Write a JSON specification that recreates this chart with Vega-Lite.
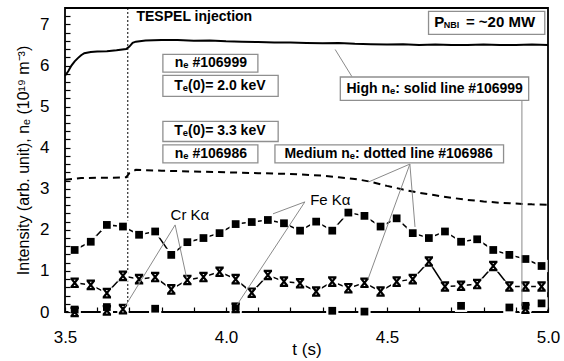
{
  "$schema": "https://vega.github.io/schema/vega-lite/v6.json",
  "width": 483,
  "height": 304,
  "autosize": {"type": "none"},
  "padding": {"left": 65, "top": 8, "right": 16, "bottom": 49},
  "background": "white",
  "config": {
    "font": "Liberation Sans",
    "view": {"stroke": "black", "strokeWidth": 1.8}
  },
  "resolve": {"axis": {"x": "independent", "y": "independent"}},
  "datasets": {
    "ne": [
      {"t": 3.50, "v": 5.75}, {"t": 3.51, "v": 5.86}, {"t": 3.52, "v": 6.00},
      {"t": 3.53, "v": 6.10}, {"t": 3.54, "v": 6.18}, {"t": 3.55, "v": 6.25},
      {"t": 3.56, "v": 6.30}, {"t": 3.58, "v": 6.33}, {"t": 3.60, "v": 6.34},
      {"t": 3.63, "v": 6.35}, {"t": 3.66, "v": 6.37}, {"t": 3.69, "v": 6.40},
      {"t": 3.70, "v": 6.46}, {"t": 3.71, "v": 6.55}, {"t": 3.72, "v": 6.58},
      {"t": 3.75, "v": 6.61}, {"t": 3.80, "v": 6.62}, {"t": 3.85, "v": 6.62},
      {"t": 3.90, "v": 6.60}, {"t": 3.95, "v": 6.61}, {"t": 4.00, "v": 6.59},
      {"t": 4.05, "v": 6.58}, {"t": 4.10, "v": 6.57}, {"t": 4.15, "v": 6.56},
      {"t": 4.20, "v": 6.56}, {"t": 4.25, "v": 6.55}, {"t": 4.30, "v": 6.54},
      {"t": 4.35, "v": 6.55}, {"t": 4.40, "v": 6.53}, {"t": 4.45, "v": 6.52},
      {"t": 4.50, "v": 6.51}, {"t": 4.55, "v": 6.52}, {"t": 4.60, "v": 6.50},
      {"t": 4.65, "v": 6.51}, {"t": 4.70, "v": 6.50}, {"t": 4.75, "v": 6.50},
      {"t": 4.80, "v": 6.51}, {"t": 4.85, "v": 6.50}, {"t": 4.90, "v": 6.50},
      {"t": 4.95, "v": 6.51}, {"t": 5.00, "v": 6.50}
    ],
    "ne2": [
      {"t": 3.50, "v": 3.22}, {"t": 3.55, "v": 3.26}, {"t": 3.60, "v": 3.27}, {"t": 3.65, "v": 3.27}, {"t": 3.69, "v": 3.28},
      {"t": 3.70, "v": 3.38}, {"t": 3.72, "v": 3.46}, {"t": 3.80, "v": 3.44}, {"t": 3.90, "v": 3.42}, {"t": 4.00, "v": 3.40},
      {"t": 4.10, "v": 3.38}, {"t": 4.20, "v": 3.36}, {"t": 4.30, "v": 3.32}, {"t": 4.35, "v": 3.28}, {"t": 4.40, "v": 3.24},
      {"t": 4.45, "v": 3.17}, {"t": 4.50, "v": 3.07}, {"t": 4.55, "v": 2.98}, {"t": 4.60, "v": 2.90}, {"t": 4.65, "v": 2.84},
      {"t": 4.70, "v": 2.78}, {"t": 4.75, "v": 2.73}, {"t": 4.80, "v": 2.69}, {"t": 4.85, "v": 2.66}, {"t": 4.90, "v": 2.64},
      {"t": 4.95, "v": 2.62}, {"t": 5.00, "v": 2.61}
    ],
    "sq": [
      {"s": "Fe 106999", "t": 3.53, "v": 1.51}, {"s": "Fe 106999", "t": 3.58, "v": 1.71}, {"s": "Fe 106999", "t": 3.63, "v": 2.12},
      {"s": "Fe 106999", "t": 3.68, "v": 2.08}, {"s": "Fe 106999", "t": 3.73, "v": 1.88}, {"s": "Fe 106999", "t": 3.78, "v": 1.96},
      {"s": "Fe 106999", "t": 3.83, "v": 1.39}, {"s": "Fe 106999", "t": 3.88, "v": 1.70}, {"s": "Fe 106999", "t": 3.93, "v": 1.80},
      {"s": "Fe 106999", "t": 3.98, "v": 1.92}, {"s": "Fe 106999", "t": 4.03, "v": 2.14}, {"s": "Fe 106999", "t": 4.08, "v": 2.19},
      {"s": "Fe 106999", "t": 4.13, "v": 2.24}, {"s": "Fe 106999", "t": 4.18, "v": 2.16}, {"s": "Fe 106999", "t": 4.23, "v": 1.98},
      {"s": "Fe 106999", "t": 4.28, "v": 2.20}, {"s": "Fe 106999", "t": 4.33, "v": 1.98}, {"s": "Fe 106999", "t": 4.38, "v": 2.42},
      {"s": "Fe 106999", "t": 4.43, "v": 2.34}, {"s": "Fe 106999", "t": 4.48, "v": 2.08}, {"s": "Fe 106999", "t": 4.53, "v": 2.28},
      {"s": "Fe 106999", "t": 4.58, "v": 1.92}, {"s": "Fe 106999", "t": 4.63, "v": 1.80}, {"s": "Fe 106999", "t": 4.68, "v": 1.96},
      {"s": "Fe 106999", "t": 4.73, "v": 1.71}, {"s": "Fe 106999", "t": 4.78, "v": 1.77}, {"s": "Fe 106999", "t": 4.83, "v": 1.51},
      {"s": "Fe 106999", "t": 4.88, "v": 1.39}, {"s": "Fe 106999", "t": 4.93, "v": 1.29}, {"s": "Fe 106999", "t": 4.98, "v": 1.12},
      {"s": "Cr 106999", "t": 3.53, "v": 0.06}, {"s": "Cr 106999", "t": 3.63, "v": 0.12}, {"s": "Cr 106999", "t": 3.78, "v": 0.08},
      {"s": "Cr 106999", "t": 4.03, "v": 0.13}, {"s": "Cr 106999", "t": 4.33, "v": 0.03}, {"s": "Cr 106999", "t": 4.43, "v": 0.01},
      {"s": "Cr 106999", "t": 4.73, "v": 0.15}, {"s": "Cr 106999", "t": 4.88, "v": 0.11}, {"s": "Cr 106999", "t": 4.93, "v": 0.15},
      {"s": "Cr 106999", "t": 4.98, "v": 0.21}
    ],
    "cx": [
      {"s": "Cr 106986", "t": 3.53, "v": 0.71}, {"s": "Cr 106986", "t": 3.58, "v": 0.66}, {"s": "Cr 106986", "t": 3.63, "v": 0.46},
      {"s": "Cr 106986", "t": 3.68, "v": 0.88}, {"s": "Cr 106986", "t": 3.73, "v": 0.80}, {"s": "Cr 106986", "t": 3.78, "v": 0.85},
      {"s": "Cr 106986", "t": 3.83, "v": 0.55}, {"s": "Cr 106986", "t": 3.88, "v": 0.78}, {"s": "Cr 106986", "t": 3.93, "v": 0.85},
      {"s": "Cr 106986", "t": 3.98, "v": 0.98}, {"s": "Cr 106986", "t": 4.03, "v": 0.80}, {"s": "Cr 106986", "t": 4.08, "v": 0.47},
      {"s": "Cr 106986", "t": 4.13, "v": 0.90}, {"s": "Cr 106986", "t": 4.18, "v": 0.74}, {"s": "Cr 106986", "t": 4.23, "v": 0.70},
      {"s": "Cr 106986", "t": 4.28, "v": 0.50}, {"s": "Cr 106986", "t": 4.33, "v": 0.74}, {"s": "Cr 106986", "t": 4.38, "v": 0.58},
      {"s": "Cr 106986", "t": 4.43, "v": 0.71}, {"s": "Cr 106986", "t": 4.48, "v": 0.50}, {"s": "Cr 106986", "t": 4.53, "v": 0.74},
      {"s": "Cr 106986", "t": 4.58, "v": 0.80}, {"s": "Cr 106986", "t": 4.63, "v": 1.23}, {"s": "Cr 106986", "t": 4.68, "v": 0.62},
      {"s": "Cr 106986", "t": 4.73, "v": 0.64}, {"s": "Cr 106986", "t": 4.78, "v": 0.68}, {"s": "Cr 106986", "t": 4.83, "v": 1.12},
      {"s": "Cr 106986", "t": 4.88, "v": 0.62}, {"s": "Cr 106986", "t": 4.93, "v": 0.62}, {"s": "Cr 106986", "t": 4.98, "v": 0.62},
      {"s": "Fe 106986", "t": 3.53, "v": 0.0}, {"s": "Fe 106986", "t": 3.63, "v": 0.04}, {"s": "Fe 106986", "t": 3.68, "v": 0.07},
      {"s": "Fe 106986", "t": 4.03, "v": 0.10}, {"s": "Fe 106986", "t": 4.93, "v": 0.08}
    ],
    "arrows": [
      {"t": 3.842, "v": 2.12, "t2": 3.686, "v2": 0.13},
      {"t": 3.842, "v": 2.12, "t2": 3.878, "v2": 0.82},
      {"t": 4.245, "v": 2.68, "t2": 4.146, "v2": 2.39},
      {"t": 4.245, "v": 2.68, "t2": 4.034, "v2": 0.17},
      {"t": 4.571, "v": 3.60, "t2": 4.444, "v2": 3.17},
      {"t": 4.571, "v": 3.60, "t2": 4.441, "v2": 0.80},
      {"t": 4.571, "v": 3.60, "t2": 4.587, "v2": 2.07},
      {"t": 4.391, "v": 5.73, "t2": 4.339, "v2": 6.39},
      {"t": 4.919, "v": 5.15, "t2": 4.919, "v2": 0.15}
    ],
    "boxes": [
      {"t": 3.804, "t2": 4.099, "v": 6.27, "v2": 5.84},
      {"t": 3.804, "t2": 4.162, "v": 5.76, "v2": 5.25},
      {"t": 3.804, "t2": 4.162, "v": 4.64, "v2": 4.15},
      {"t": 3.804, "t2": 4.099, "v": 4.07, "v2": 3.63},
      {"t": 4.355, "t2": 4.940, "v": 5.72, "v2": 5.15},
      {"t": 4.152, "t2": 4.862, "v": 4.07, "v2": 3.63},
      {"t": 4.629, "t2": 4.990, "v": 7.32, "v2": 6.76}
    ],
    "labels": [
      {"label": "nₑ #106999", "t": 3.953, "v": 6.05},
      {"label": "Tₑ(0)= 2.0 keV", "t": 3.981, "v": 5.51},
      {"label": "Tₑ(0)= 3.3 keV", "t": 3.981, "v": 4.40},
      {"label": "nₑ #106986", "t": 3.953, "v": 3.85},
      {"label": "High nₑ: solid line #106999", "t": 4.648, "v": 5.44},
      {"label": "Medium nₑ: dotted line #106986", "t": 4.505, "v": 3.85}
    ],
    "plain": [
      {"label": "Cr Kα", "t": 3.888, "v": 2.37},
      {"label": "Fe Kα", "t": 4.324, "v": 2.73}
    ],
    "pnbi": [
      {"label": "P", "t": 4.647, "v": 7.05},
      {"label": "= ~20 MW", "t": 4.745, "v": 7.05}
    ],
    "pnbisub": [
      {"label": "NBI", "t": 4.676, "v": 6.98}
    ],
    "tespel": [
      {"label": "TESPEL injection", "t": 3.722, "v": 7.17}
    ],
    "inj": [
      {"t": 3.695}
    ]
  },
  "layer": [
    {
      "data": {"name": "ne"},
      "mark": {"type": "line", "color": "black", "strokeWidth": 2},
      "encoding": {
        "x": {"field": "t", "type": "quantitative", "scale": {"domain": [3.5, 5.0], "nice": false, "zero": false},
          "axis": {"orient": "bottom", "title": "t (s)", "grid": false, "domain": false, "ticks": true, "tickColor": "black", "tickOpacity": 1, "tickWidth": 1.2, "zindex": 1,
            "values": [3.5, 4.0, 4.5, 5.0], "format": ".1f", "labelFlush": false,
            "labelColor": "black", "titleColor": "black", "titleFontWeight": "normal",
            "offset": -5, "tickSize": 5, "labelFontSize": 17, "labelPadding": 17, "titleFontSize": 17, "titlePadding": -4}},
        "y": {"field": "v", "type": "quantitative", "scale": {"domain": [0, 7.4], "nice": false},
          "axis": {"orient": "left", "title": "Intensity (arb. unit), nₑ (10¹⁹ m⁻³)", "grid": false, "domain": false, "ticks": true, "tickColor": "black", "tickOpacity": 1, "tickWidth": 1.2, "zindex": 1,
            "values": [0, 1, 2, 3, 4, 5, 6, 7], "format": "d", "labelFlush": false,
            "labelColor": "black", "titleColor": "black", "titleFontWeight": "normal",
            "offset": -5, "tickSize": 5, "labelFontSize": 17, "labelPadding": 16, "titleFontSize": 16, "titlePadding": 8}}
      }
    },
    {
      "data": {"name": "ne2"},
      "mark": {"type": "line", "color": "black", "strokeWidth": 2, "strokeDash": [7, 5]},
      "encoding": {
        "x": {"field": "t", "type": "quantitative", "scale": {"domain": [3.5, 5.0], "nice": false, "zero": false},
          "axis": {"orient": "bottom", "title": null, "labels": false, "grid": false, "domain": false, "ticks": true, "tickColor": "black", "tickOpacity": 1, "tickWidth": 1.2, "zindex": 1,
            "values": [3.6, 3.7, 3.8, 3.9, 4.1, 4.2, 4.3, 4.4, 4.6, 4.7, 4.8, 4.9], "offset": -5, "tickSize": 5}},
        "y": {"field": "v", "type": "quantitative", "scale": {"domain": [0, 7.4], "nice": false},
          "axis": {"orient": "left", "title": null, "labels": false, "grid": false, "domain": false, "ticks": true, "tickColor": "black", "tickOpacity": 1, "tickWidth": 1.2, "zindex": 1,
            "values": [0.2, 0.4, 0.6, 0.8, 1.2, 1.4, 1.6, 1.8, 2.2, 2.4, 2.6, 2.8, 3.2, 3.4, 3.6, 3.8, 4.2, 4.4, 4.6, 4.8, 5.2, 5.4, 5.6, 5.8, 6.2, 6.4, 6.6, 6.8, 7.2], "offset": -5, "tickSize": 5}}
      }
    },
    {
      "data": {"name": "inj"},
      "mark": {"type": "rule", "color": "black", "strokeWidth": 1, "strokeDash": [2, 2]},
      "encoding": {"x": {"field": "t", "type": "quantitative", "axis": null}}
    },
    {
      "data": {"name": "sq"},
      "transform": [{"filter": "datum.s == 'Fe 106999'"}],
      "mark": {"type": "line", "color": "black", "strokeWidth": 1.5},
      "encoding": {"x": {"field": "t", "type": "quantitative", "axis": null}, "y": {"field": "v", "type": "quantitative", "axis": null}}
    },
    {
      "data": {"name": "cx"},
      "transform": [{"filter": "datum.s == 'Cr 106986'"}],
      "mark": {"type": "line", "color": "black", "strokeWidth": 1.5},
      "encoding": {"x": {"field": "t", "type": "quantitative", "axis": null}, "y": {"field": "v", "type": "quantitative", "axis": null}}
    },
    {
      "data": {"name": "sq"},
      "mark": {"type": "point", "shape": "square", "filled": true, "color": "white", "opacity": 1, "size": 150},
      "encoding": {"x": {"field": "t", "type": "quantitative", "axis": null}, "y": {"field": "v", "type": "quantitative", "axis": null}}
    },
    {
      "data": {"name": "cx"},
      "mark": {"type": "point", "shape": "square", "filled": true, "color": "white", "opacity": 1, "size": 130},
      "encoding": {"x": {"field": "t", "type": "quantitative", "axis": null}, "y": {"field": "v", "type": "quantitative", "axis": null}}
    },
    {
      "data": {"name": "sq"},
      "mark": {"type": "point", "shape": "square", "filled": true, "color": "black", "opacity": 1, "size": 60},
      "encoding": {"x": {"field": "t", "type": "quantitative", "axis": null}, "y": {"field": "v", "type": "quantitative", "axis": null}}
    },
    {
      "data": {"name": "cx"},
      "mark": {"type": "point", "shape": "M-1,-1H1M-1,1H1M-0.8,-1L0.8,1M0.8,-1L-0.8,1", "filled": false, "color": "black", "opacity": 1, "size": 70, "strokeWidth": 2.2},
      "encoding": {"x": {"field": "t", "type": "quantitative", "axis": null}, "y": {"field": "v", "type": "quantitative", "axis": null}}
    },
    {
      "data": {"name": "arrows"},
      "mark": {"type": "rule", "color": "#8a8a8a", "strokeWidth": 1},
      "encoding": {"x": {"field": "t", "type": "quantitative", "axis": null}, "y": {"field": "v", "type": "quantitative", "axis": null}, "x2": {"field": "t2"}, "y2": {"field": "v2"}}
    },
    {
      "data": {"name": "boxes"},
      "mark": {"type": "rect", "fill": "white", "stroke": "#8f8f8f", "strokeWidth": 1.3},
      "encoding": {"x": {"field": "t", "type": "quantitative", "axis": null}, "y": {"field": "v", "type": "quantitative", "axis": null}, "x2": {"field": "t2"}, "y2": {"field": "v2"}}
    },
    {
      "data": {"name": "labels"},
      "mark": {"type": "text", "fontSize": 14, "fontWeight": "bold", "color": "black", "align": "center", "baseline": "middle"},
      "encoding": {"x": {"field": "t", "type": "quantitative", "axis": null}, "y": {"field": "v", "type": "quantitative", "axis": null}, "text": {"field": "label"}}
    },
    {
      "data": {"name": "plain"},
      "mark": {"type": "text", "fontSize": 15, "color": "black", "align": "center", "baseline": "middle"},
      "encoding": {"x": {"field": "t", "type": "quantitative", "axis": null}, "y": {"field": "v", "type": "quantitative", "axis": null}, "text": {"field": "label"}}
    },
    {
      "data": {"name": "tespel"},
      "mark": {"type": "text", "fontSize": 14, "fontWeight": "bold", "color": "black", "align": "left", "baseline": "middle"},
      "encoding": {"x": {"field": "t", "type": "quantitative", "axis": null}, "y": {"field": "v", "type": "quantitative", "axis": null}, "text": {"field": "label"}}
    },
    {
      "data": {"name": "pnbi"},
      "mark": {"type": "text", "fontSize": 15, "fontWeight": "bold", "color": "black", "align": "left", "baseline": "middle"},
      "encoding": {"x": {"field": "t", "type": "quantitative", "axis": null}, "y": {"field": "v", "type": "quantitative", "axis": null}, "text": {"field": "label"}}
    },
    {
      "data": {"name": "pnbisub"},
      "mark": {"type": "text", "fontSize": 9, "fontWeight": "bold", "color": "black", "align": "left", "baseline": "middle"},
      "encoding": {"x": {"field": "t", "type": "quantitative", "axis": null}, "y": {"field": "v", "type": "quantitative", "axis": null}, "text": {"field": "label"}}
    }
  ]
}
